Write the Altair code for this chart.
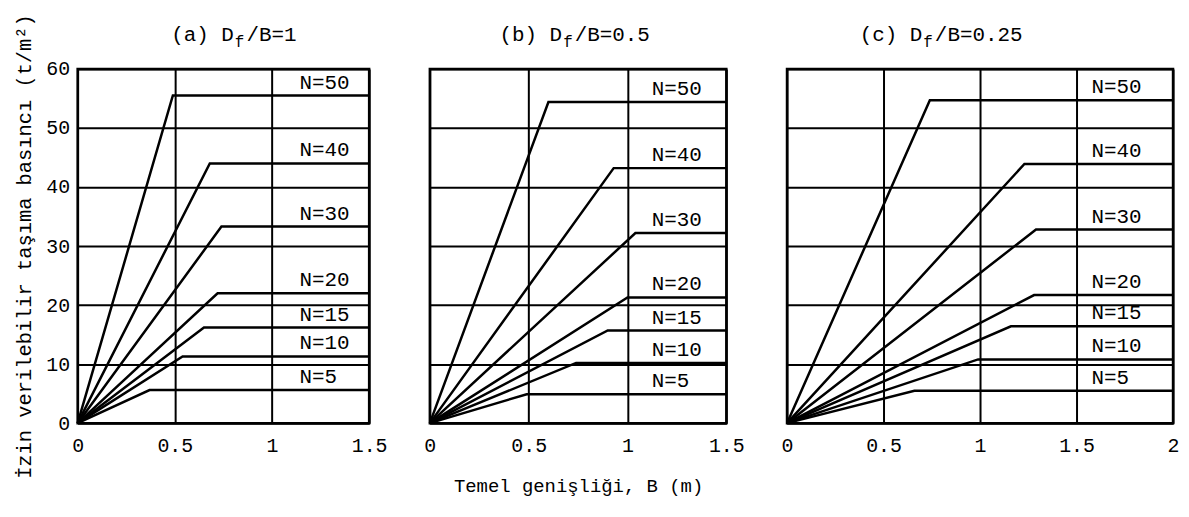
import altair as alt
import pandas as pd

MONO = "Liberation Mono"
WEIGHT = "normal"

# Curve labels (same order in every panel)
N_LABELS = ["N=50", "N=40", "N=30", "N=20", "N=15", "N=10", "N=5"]

# Panel (a) Df/B = 1 : foundation width where the line levels off, and the plateau pressure
a_break_B = [0.49, 0.68, 0.74, 0.72, 0.65, 0.54, 0.37]
a_plateau = [55.5, 44.0, 33.3, 22.0, 16.2, 11.3, 5.6]

# Panel (b) Df/B = 0.5
b_break_B = [0.60, 0.93, 1.04, 1.00, 0.90, 0.74, 0.49]
b_plateau = [54.4, 43.2, 32.2, 21.3, 15.7, 10.2, 4.9]

# Panel (c) Df/B = 0.25
c_break_B = [0.74, 1.23, 1.29, 1.28, 1.16, 0.99, 0.66]
c_plateau = [54.7, 43.9, 32.8, 21.7, 16.4, 10.8, 5.5]

x_ticks_ab = [0, 0.5, 1, 1.5]
x_ticks_c = [0, 0.5, 1, 1.5, 2]
y_ticks = [0, 10, 20, 30, 40, 50, 60]

Y_TITLE = "İzin verilebilir taşıma basıncı (t/m²)"
X_TITLE = "Temel genişliği, B (m)"

TITLE_SIZE = 21
CW = 0.6 * TITLE_SIZE


def panel(breaks, plateaus, xticks, width, t_prefix, t_suffix, title_x,
          label_dx, show_y, show_xtitle):
    xmax = xticks[-1]
    rows = []
    for lab, bx, p in zip(N_LABELS, breaks, plateaus):
        rows.append({"N": lab, "B": 0.0, "q": 0.0, "o": 0})
        rows.append({"N": lab, "B": bx, "q": p, "o": 1})
        rows.append({"N": lab, "B": float(xmax), "q": p, "o": 2})
    lines_df = pd.DataFrame(rows)
    labels_df = pd.DataFrame({"N": N_LABELS, "B": [float(xmax)] * len(N_LABELS),
                              "q": plateaus})

    xscale = alt.Scale(domain=[0, xmax], nice=False, zero=True)
    yscale = alt.Scale(domain=[0, 60], nice=False)

    xaxis_kw = dict(values=xticks, format="~g", grid=True, labelPadding=12,
                    labelFlush=False)
    if show_xtitle:
        xaxis_kw.update(title=X_TITLE, titlePadding=22, titleFontSize=19)
    else:
        xaxis_kw.update(title=None)
    yaxis_kw = dict(values=y_ticks, grid=True, labelPadding=8)
    if show_y:
        yaxis_kw.update(title=Y_TITLE, titlePadding=11, titleFontSize=20.5)
    else:
        yaxis_kw.update(title=None, labels=False)

    base_x = alt.X("B:Q", scale=xscale, axis=alt.Axis(**xaxis_kw))
    base_y = alt.Y("q:Q", scale=yscale, axis=alt.Axis(**yaxis_kw))

    lines = alt.Chart(lines_df).mark_line(color="black", strokeWidth=2.5).encode(
        x=base_x, y=base_y, detail="N:N", order="o:Q"
    )
    labels = alt.Chart(labels_df).mark_text(
        align="left", baseline="middle", dx=label_dx, dy=-13,
        font=MONO, fontSize=21, fontWeight=WEIGHT, color="black"
    ).encode(x="B:Q", y="q:Q", text="N:N")

    tdf = pd.DataFrame({"t": [0]})
    t1 = alt.Chart(tdf).mark_text(align="left", baseline="alphabetic", font=MONO,
                                  fontSize=TITLE_SIZE, fontWeight=WEIGHT,
                                  color="black").encode(
        x=alt.value(title_x), y=alt.value(-28), text=alt.value(t_prefix))
    t2 = alt.Chart(tdf).mark_text(align="left", baseline="alphabetic", font=MONO,
                                  fontSize=16, fontWeight=WEIGHT, color="black").encode(
        x=alt.value(title_x + len(t_prefix) * CW + 1), y=alt.value(-22),
        text=alt.value("f"))
    t3 = alt.Chart(tdf).mark_text(align="left", baseline="alphabetic", font=MONO,
                                  fontSize=TITLE_SIZE, fontWeight=WEIGHT,
                                  color="black").encode(
        x=alt.value(title_x + (len(t_prefix) + 1) * CW), y=alt.value(-28),
        text=alt.value(t_suffix))

    return alt.layer(lines, labels, t1, t2, t3).properties(width=width, height=356)


pa = panel(a_break_B, a_plateau, x_ticks_ab, 293, "(a) D", "/B=1", 94, -70, True, False)
pb = panel(b_break_B, b_plateau, x_ticks_ab, 298, "(b) D", "/B=0.5", 70, -75, False, True)
pc = panel(c_break_B, c_plateau, x_ticks_c, 388, "(c) D", "/B=0.25", 73, -82, False, False)

chart = alt.hconcat(pa, pb, pc, spacing=61).properties(
    bounds="flush",
    padding={"left": 5, "top": 3, "right": 0, "bottom": 5},
    background="white",
).configure_axis(
    labelFont=MONO, labelFontSize=20, labelColor="black", labelFontWeight=WEIGHT,
    titleFont=MONO, titleFontWeight=WEIGHT, titleColor="black",
    tickSize=0, domain=False,
    gridColor="black", gridWidth=2, gridOpacity=1,
).configure_view(stroke="black", strokeWidth=2.5)

chart.save("out.html", embed_options={"renderer": "svg", "actions": False})
